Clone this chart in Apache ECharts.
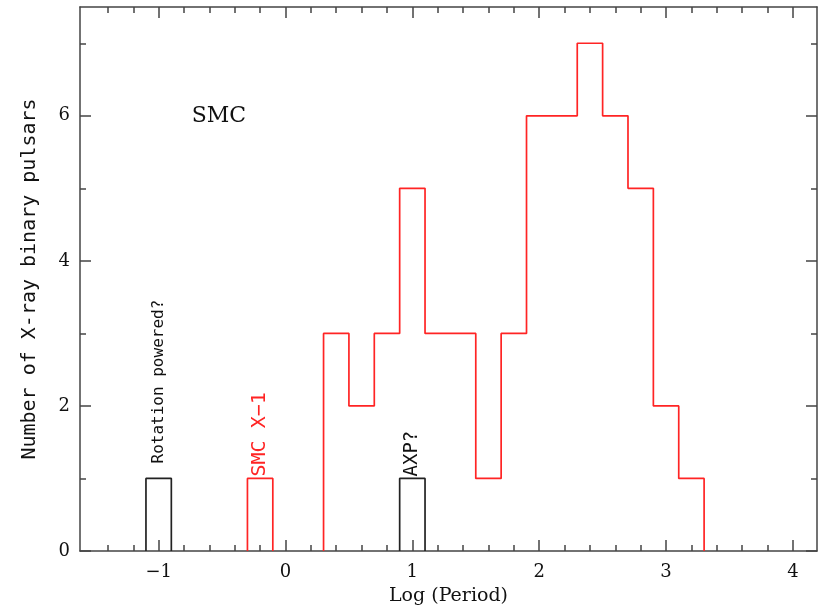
<!DOCTYPE html>
<html>
<head>
<meta charset="utf-8">
<script src="https://cdn.jsdelivr.net/npm/echarts@6/dist/echarts.min.js"></script>
<style>
  html, body { margin: 0; padding: 0; background: #fff; }
  #chart { width: 831px; height: 611px; }
</style>
</head>
<body>
<div id="chart"></div>
<script>
// Histogram of log(period) for SMC X-ray binary pulsars (bin width 0.2)
const redEdges = [0.3, 0.5, 0.7, 0.9, 1.1, 1.3, 1.5, 1.7, 1.9, 2.1, 2.3, 2.5, 2.7, 2.9, 3.1, 3.3];
const redCounts = [3, 2, 3, 5, 3, 3, 1, 3, 6, 6, 7, 6, 5, 2, 1];

// SMC X-1 single bin
const smcX1Edges = [-0.3, -0.1];
const smcX1Counts = [1];

// Candidate rotation-powered pulsar and AXP bins
const rotEdges = [-1.1, -0.9];
const rotCounts = [1];
const axpEdges = [0.9, 1.1];
const axpCounts = [1];

// Axis ranges and ticks
const xRange = [-1.62, 4.19];
const yRange = [0, 7.5];
const xMajorTicks = [-1, 0, 1, 2, 3, 4];
const xMinorTicks = [-1.4, -1.2, -0.8, -0.6, -0.4, -0.2, 0.2, 0.4, 0.6, 0.8, 1.2, 1.4, 1.6, 1.8,
                     2.2, 2.4, 2.6, 2.8, 3.2, 3.4, 3.6, 3.8, 4.0];
const yMajorTicks = [0, 2, 4, 6];
const yMinorTicks = [1, 3, 5, 7];

// Build a closed step outline from bin edges and counts
function outline(edges, counts) {
  const pts = [[edges[0], 0]];
  counts.forEach((c, i) => {
    pts.push([edges[i], c]);
    pts.push([edges[i + 1], c]);
  });
  pts.push([edges[edges.length - 1], 0]);
  return pts;
}

const AXIS_COLOR = '#444';
const RED = '#ff2424';
const BLACK = '#222';
const SERIF = '"DejaVu Serif", serif';
const MONO = '"DejaVu Sans Mono", monospace';

function xAxisDef(pos, ticks, len, withLabels, withLine) {
  return {
    type: 'value', position: pos, min: xRange[0], max: xRange[1],
    axisLine: { show: withLine, onZero: false, lineStyle: { color: AXIS_COLOR, width: 1.5 } },
    axisTick: { show: true, inside: true, length: len, customValues: ticks,
                lineStyle: { color: AXIS_COLOR, width: 1.5 } },
    axisLabel: withLabels ? {
      show: true, customValues: ticks, margin: 12, color: '#111',
      fontFamily: SERIF, fontSize: 18,
      formatter: v => String(v).replace('-', '\u2212')
    } : { show: false },
    splitLine: { show: false }
  };
}
function yAxisDef(pos, ticks, len, withLabels, withLine) {
  return {
    type: 'value', position: pos, min: yRange[0], max: yRange[1],
    axisLine: { show: withLine, onZero: false, lineStyle: { color: AXIS_COLOR, width: 1.5 } },
    axisTick: { show: true, inside: true, length: len, customValues: ticks,
                lineStyle: { color: AXIS_COLOR, width: 1.5 } },
    axisLabel: withLabels ? {
      show: true, customValues: ticks, margin: 10, color: '#111',
      fontFamily: SERIF, fontSize: 18
    } : { show: false },
    splitLine: { show: false }
  };
}

const xAxes = [
  xAxisDef('bottom', xMajorTicks, 11, true, true),
  xAxisDef('bottom', xMinorTicks, 6, false, false),
  xAxisDef('top', xMajorTicks, 11, false, true),
  xAxisDef('top', xMinorTicks, 6, false, false)
];
xAxes[0].name = 'Log (Period)';
xAxes[0].nameLocation = 'middle';
xAxes[0].nameGap = 36;
xAxes[0].nameTextStyle = { fontFamily: SERIF, fontSize: 19, color: '#111' };

const yAxes = [
  yAxisDef('left', yMajorTicks, 11, true, true),
  yAxisDef('left', yMinorTicks, 6, false, false),
  yAxisDef('right', yMajorTicks, 11, false, true),
  yAxisDef('right', yMinorTicks, 6, false, false)
];
yAxes[0].name = 'Number of X-ray binary pulsars';
yAxes[0].nameLocation = 'middle';
yAxes[0].nameGap = 40;
yAxes[0].nameTextStyle = { fontFamily: MONO, fontSize: 20, color: '#111' };

function stepSeries(name, edges, counts, color) {
  return {
    name, type: 'line', xAxisIndex: 0, yAxisIndex: 0,
    data: outline(edges, counts), symbol: 'none', animation: false,
    lineStyle: { color, width: 1.7 }, z: 3
  };
}

const chart = echarts.init(document.getElementById('chart'), null, { renderer: 'canvas' });
chart.setOption({
  animation: false,
  backgroundColor: '#fff',
  grid: { left: 80, right: 14, top: 7, bottom: 57, containLabel: false },
  xAxis: xAxes,
  yAxis: yAxes,
  series: [
    stepSeries('SMC pulsars', redEdges, redCounts, RED),
    stepSeries('SMC X-1', smcX1Edges, smcX1Counts, RED),
    stepSeries('Rotation powered?', rotEdges, rotCounts, BLACK),
    stepSeries('AXP?', axpEdges, axpCounts, BLACK)
  ]
});

// Text annotations anchored to data coordinates
function px(x, y) { return chart.convertToPixel({ xAxisIndex: 0, yAxisIndex: 0 }, [x, y]); }
function binCenter(edges) { return (edges[0] + edges[1]) / 2; }

const pRot = px(binCenter(rotEdges), rotCounts[0]);
const pSmc = px(binCenter(smcX1Edges), smcX1Counts[0]);
const pAxp = px(binCenter(axpEdges), axpCounts[0]);
const pLabel = px(-0.74, 6);

function vText(p, gap, text, color, font, size) {
  return {
    type: 'text', x: p[0], y: p[1] - gap, rotation: Math.PI / 2,
    style: { text, fill: color, fontFamily: font, fontSize: size,
             align: 'left', verticalAlign: 'middle' },
    z: 10
  };
}

chart.setOption({
  graphic: [
    vText(pRot, 15, 'Rotation powered?', '#111', MONO, 16),
    vText(pSmc, 2, 'SMC X\u22121', RED, MONO, 20),
    vText(pAxp, 2, 'AXP?', '#111', MONO, 19),
    {
      type: 'text', x: pLabel[0], y: pLabel[1],
      style: { text: 'SMC', fill: '#111', fontFamily: SERIF, fontSize: 22,
               align: 'left', verticalAlign: 'middle' },
      z: 10
    }
  ]
});
</script>
</body>
</html>
